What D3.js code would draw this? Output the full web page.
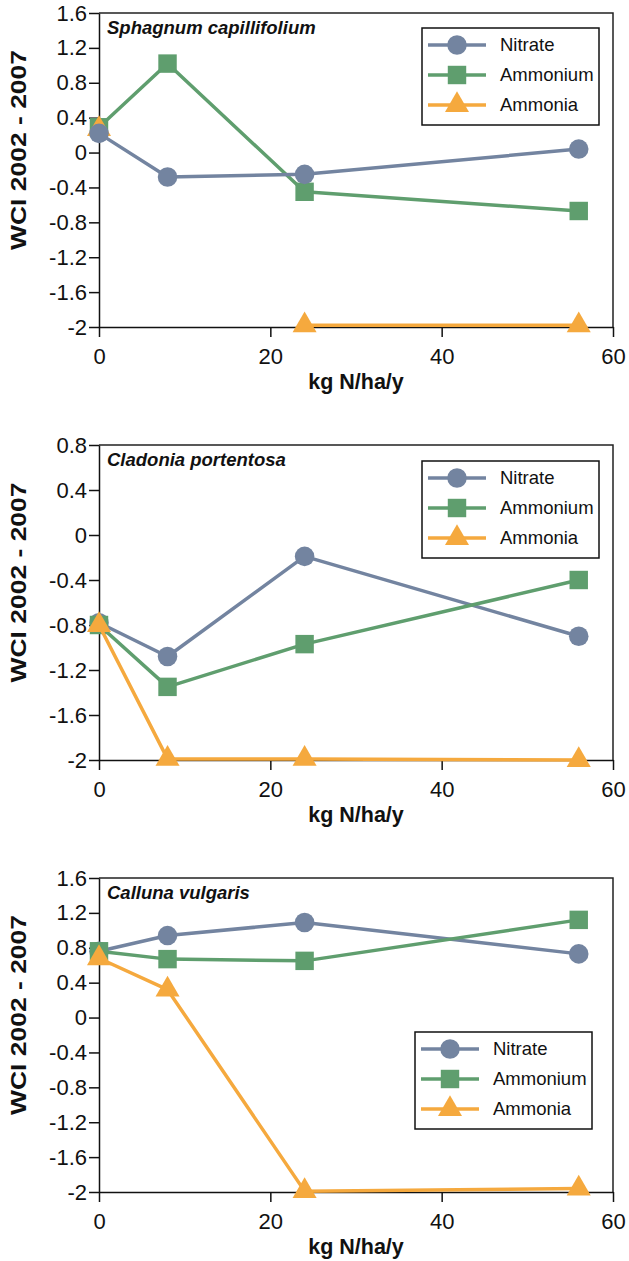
<!DOCTYPE html>
<html><head><meta charset="utf-8">
<script src="https://cdn.jsdelivr.net/npm/d3@7"></script>
<style>
body{margin:0;background:#fff}
svg{display:block}
text{font-family:"Liberation Sans",Arial,Helvetica,sans-serif;fill:#111}
</style></head><body>
<svg id="chart" width="629" height="1261"></svg>
<script>
// ---------- data ----------
const doses = [0, 8, 24, 56];
const xTickLabels = ["0", "20", "40", "60"];
const seriesNames = ["Nitrate", "Ammonium", "Ammonia"];
const speciesNames = ["Sphagnum capillifolium", "Cladonia portentosa", "Calluna vulgaris"];
const yTickLabelsA = ["-2", "-1.6", "-1.2", "-0.8", "-0.4", "0", "0.4", "0.8", "1.2", "1.6"];
const yTickLabelsB = ["-2", "-1.6", "-1.2", "-0.8", "-0.4", "0", "0.4", "0.8"];
const yAxisTitle = "WCI 2002 - 2007";
const xAxisTitle = "kg N/ha/y";

const sphagnumNitrate  = [0.22, -0.28, -0.25, 0.04];
const sphagnumAmmonium = [0.29, 1.02, -0.45, -0.67];
const sphagnumAmmonia  = [0.27, null, -1.98, -1.98];

const cladoniaNitrate  = [-0.78, -1.08, -0.19, -0.90];
const cladoniaAmmonium = [-0.80, -1.35, -0.97, -0.40];
const cladoniaAmmonia  = [-0.80, -1.99, -1.99, -2.00];

const callunaNitrate  = [0.76, 0.94, 1.09, 0.73];
const callunaAmmonium = [0.76, 0.67, 0.65, 1.12];
const callunaAmmonia  = [0.68, 0.32, -1.99, -1.96];

// ---------- styling / layout ----------
const colors = {Nitrate: "#7384a0", Ammonium: "#5f9e6e", Ammonia: "#f5a93e"};
const symbols = {Nitrate: d3.symbolCircle, Ammonium: d3.symbolSquare, Ammonia: d3.symbolTriangle};
const symSize = {Nitrate: 300, Ammonium: 340, Ammonia: 250};

const panels = [
  {name: speciesNames[0], ticks: yTickLabelsA, top: 13, bottom: 327,
   series: {Nitrate: sphagnumNitrate, Ammonium: sphagnumAmmonium, Ammonia: sphagnumAmmonia},
   order: ["Ammonium", "Ammonia", "Nitrate"], legend: {x: 422, y: 28}},
  {name: speciesNames[1], ticks: yTickLabelsB, top: 445, bottom: 760,
   series: {Nitrate: cladoniaNitrate, Ammonium: cladoniaAmmonium, Ammonia: cladoniaAmmonia},
   order: ["Nitrate", "Ammonium", "Ammonia"], legend: {x: 422, y: 461}},
  {name: speciesNames[2], ticks: yTickLabelsA, top: 878, bottom: 1192,
   series: {Nitrate: callunaNitrate, Ammonium: callunaAmmonium, Ammonia: callunaAmmonia},
   order: ["Nitrate", "Ammonium", "Ammonia"], legend: {x: 415, y: 1032}}
];

const left = 99, right = 613;
const svg = d3.select("#chart");

panels.forEach(p => {
  const tickVals = p.ticks.map(Number);
  const x = d3.scaleLinear().domain([0, 60]).range([left, right]);
  const y = d3.scaleLinear().domain([d3.min(tickVals), d3.max(tickVals)]).range([p.bottom, p.top]);
  const g = svg.append("g");

  // frame (top & right)
  g.append("path")
    .attr("d", `M${left},${p.top}H${right}V${p.bottom}`)
    .attr("fill", "none").attr("stroke", "#222").attr("stroke-width", 1.5);

  // axes
  const ya = g.append("g").attr("transform", `translate(${left},0)`)
    .call(d3.axisLeft(y).tickValues(tickVals).tickFormat((d, i) => p.ticks[i]).tickSize(10).tickPadding(2).tickSizeOuter(0));
  const xa = g.append("g").attr("transform", `translate(0,${p.bottom})`)
    .call(d3.axisBottom(x).tickValues(xTickLabels.map(Number)).tickFormat((d, i) => xTickLabels[i]).tickSize(10).tickPadding(11).tickSizeOuter(0));
  [ya, xa].forEach(a => {
    a.select(".domain").attr("stroke", "#111").attr("stroke-width", 1.5);
    a.selectAll(".tick line").attr("stroke", "#111").attr("stroke-width", 1.5);
    a.selectAll(".tick text").attr("font-size", 22).attr("fill", "#111")
      .style("font-family", '"Liberation Sans",Arial,sans-serif');
  });

  // axis titles
  g.append("text")
    .attr("transform", `translate(26,${(p.top + p.bottom) / 2 - 20}) rotate(-90)`)
    .attr("text-anchor", "middle").attr("font-size", 22).attr("font-weight", "bold")
    .attr("textLength", 200).attr("lengthAdjust", "spacingAndGlyphs")
    .text(yAxisTitle);
  g.append("text")
    .attr("x", (left + right) / 2).attr("y", p.bottom + 62)
    .attr("text-anchor", "middle").attr("font-size", 21.5).attr("font-weight", "bold")
    .text(xAxisTitle);

  // species name
  g.append("text")
    .attr("x", 107).attr("y", p.top + 21)
    .attr("font-size", 18.5).attr("font-weight", "bold").attr("font-style", "italic")
    .text(p.name);

  // series
  p.order.forEach(s => {
    const vals = p.series[s];
    const pts = doses.map((d, i) => ({x: d, v: vals[i]}));
    const line = d3.line().defined(d => d.v !== null).x(d => x(d.x)).y(d => y(d.v));
    g.append("path").datum(pts).attr("d", line)
      .attr("fill", "none").attr("stroke", colors[s]).attr("stroke-width", 3.5)
      .attr("stroke-linejoin", "round");
    g.selectAll(null).data(pts.filter(d => d.v !== null)).enter().append("path")
      .attr("transform", d => `translate(${x(d.x)},${y(d.v)})`)
      .attr("d", d3.symbol().type(symbols[s]).size(symSize[s]))
      .attr("fill", colors[s]);
  });

  // legend
  const L = p.legend;
  const lg = g.append("g").attr("transform", `translate(${L.x},${L.y})`);
  lg.append("rect").attr("width", 177).attr("height", 97)
    .attr("fill", "#fff").attr("stroke", "#111").attr("stroke-width", 1.5);
  seriesNames.forEach((s, i) => {
    const cy = 17 + i * 30;
    lg.append("line").attr("x1", 6).attr("x2", 64).attr("y1", cy).attr("y2", cy)
      .attr("stroke", colors[s]).attr("stroke-width", 3.5);
    lg.append("path").attr("transform", `translate(35,${cy})`)
      .attr("d", d3.symbol().type(symbols[s]).size(symSize[s])).attr("fill", colors[s]);
    lg.append("text").attr("x", 78).attr("y", cy).attr("dy", "0.35em")
      .attr("font-size", 18.5).text(s);
  });
});
</script>
</body></html>
